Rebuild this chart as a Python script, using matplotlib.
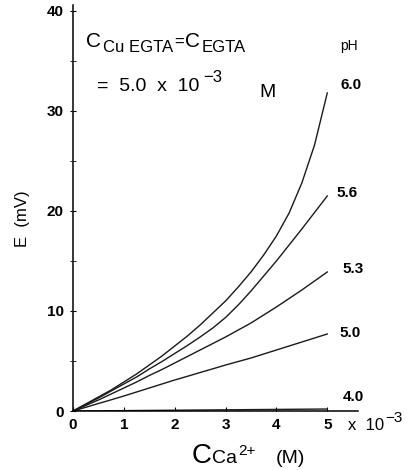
import matplotlib.pyplot as plt
from matplotlib.transforms import offset_copy

plt.rcParams["font.family"] = "sans-serif"
plt.rcParams["font.sans-serif"] = ["Liberation Sans", "DejaVu Sans"]

# C_Ca2+ in units of 10^-3 M
conc = [0, 0.25, 0.5, 0.75, 1, 1.25, 1.5, 1.75, 2, 2.25, 2.5,
        2.75, 3, 3.25, 3.5, 3.75, 4, 4.25, 4.5, 4.75, 5]
e_ph60 = [0, 0.7, 1.4, 2.1, 2.9, 3.7, 4.6, 5.5, 6.5, 7.5, 8.6,
          9.8, 11.0, 12.4, 13.9, 15.6, 17.5, 19.8, 22.8, 26.6, 31.8]
e_ph56 = [0, 0.65, 1.3, 2.0, 2.7, 3.4, 4.2, 4.95, 5.75, 6.55, 7.4,
          8.3, 9.35, 10.6, 12.0, 13.5, 15.0, 16.6, 18.2, 19.85, 21.5]
e_ph53 = [0, 0.55, 1.1, 1.7, 2.3, 2.9, 3.55, 4.15, 4.8, 5.45, 6.1,
          6.75, 7.4, 8.1, 8.8, 9.6, 10.4, 11.25, 12.1, 13.0, 13.9]
e_ph50 = [0, 0.37, 0.75, 1.12, 1.5, 1.9, 2.3, 2.7, 3.1, 3.47, 3.85,
          4.22, 4.6, 4.95, 5.3, 5.7, 6.1, 6.5, 6.9, 7.3, 7.7]
e_ph40 = [0, 0.01, 0.02, 0.03, 0.04, 0.05, 0.06, 0.07, 0.08, 0.09, 0.1,
          0.11, 0.12, 0.13, 0.14, 0.15, 0.16, 0.17, 0.18, 0.19, 0.2]
ph_labels = ["6.0", "5.6", "5.3", "5.0", "4.0"]


def draw_pieces(ax, x, y, pieces):
    # pieces: (text, fontsize, raise_px, gap_after_px); laid out left to right
    fig = ax.figure
    renderer = fig.canvas.get_renderer()
    dx = 0.0
    for s, size, dy, gap in pieces:
        tr = offset_copy(ax.transData, fig=fig, x=dx, y=dy, units="dots")
        t = ax.text(x, y, s, fontsize=size, ha="left", va="baseline",
                    transform=tr, clip_on=False)
        dx += t.get_window_extent(renderer).width + gap


fig = plt.figure(figsize=(4.17, 4.70), dpi=100)
ax = fig.add_axes([0.175, 0.1255, 0.683, 0.864])

curves = [e_ph60, e_ph56, e_ph53, e_ph50, e_ph40]
for vals in curves:
    ax.plot(conc, vals, color="#1a1a1a", linewidth=1.0)

label_pos = [(5.47, 32.6), (5.38, 21.8), (5.5, 14.2), (5.44, 7.8), (5.52, 1.4)]
for lab, (lx, ly) in zip(ph_labels, label_pos):
    ax.text(lx, ly, lab, fontsize=11, fontweight="bold", ha="center", va="center")

ax.set_xlim(0, 5.6)
ax.set_ylim(0, 40.6)
for side in ["top", "right"]:
    ax.spines[side].set_visible(False)
for side in ["left", "bottom"]:
    ax.spines[side].set_linewidth(1.1)

ax.set_xticks(range(6))
ax.set_yticks([0, 10, 20, 30, 40])
ax.set_yticks([5, 15, 25, 35], minor=True)
ax.tick_params(axis="x", direction="in", length=3, pad=5, labelsize=11)
ax.tick_params(axis="y", which="both", direction="inout", length=5, pad=4, labelsize=11)
for lab in ax.get_xticklabels() + ax.get_yticklabels():
    lab.set_fontweight("bold")

fig.canvas.draw()

# "x 10^-3" multiplier next to the x axis end
draw_pieces(ax, 5.4, -1.9, [("x  10", 12, 0, 2), ("\u22123", 11, 8, 0)])

# x label: C_{Ca^{2+}} (M)
draw_pieces(ax, 2.33, -5.2, [("C", 20, 0, 1), ("Ca", 14, 0, 1),
                             ("2+", 11, 8, 20), ("(M)", 14, 0, 0)])

# y label, sitting a little below the axis middle
ax.text(-0.99, 19.2, "E  (mV)", fontsize=12, rotation=90, ha="center", va="center")

# concentration note, top left
draw_pieces(ax, 0.25, 36.4, [("C", 15, 0, 2), ("Cu EGTA", 12, -5, 1), ("=", 12, 0, 1),
                             ("C", 15, 0, 2), ("EGTA", 12, -5, 0)])
draw_pieces(ax, 0.47, 32.0, [("=  5.0  x  10", 14, 0, 4), ("\u22123", 12, 9, 0)])
ax.text(3.67, 31.4, "M", fontsize=14, ha="left", va="baseline")
ax.text(5.43, 36.5, "pH", fontsize=10, ha="center", va="center")

fig.savefig("out.png", dpi=100)
